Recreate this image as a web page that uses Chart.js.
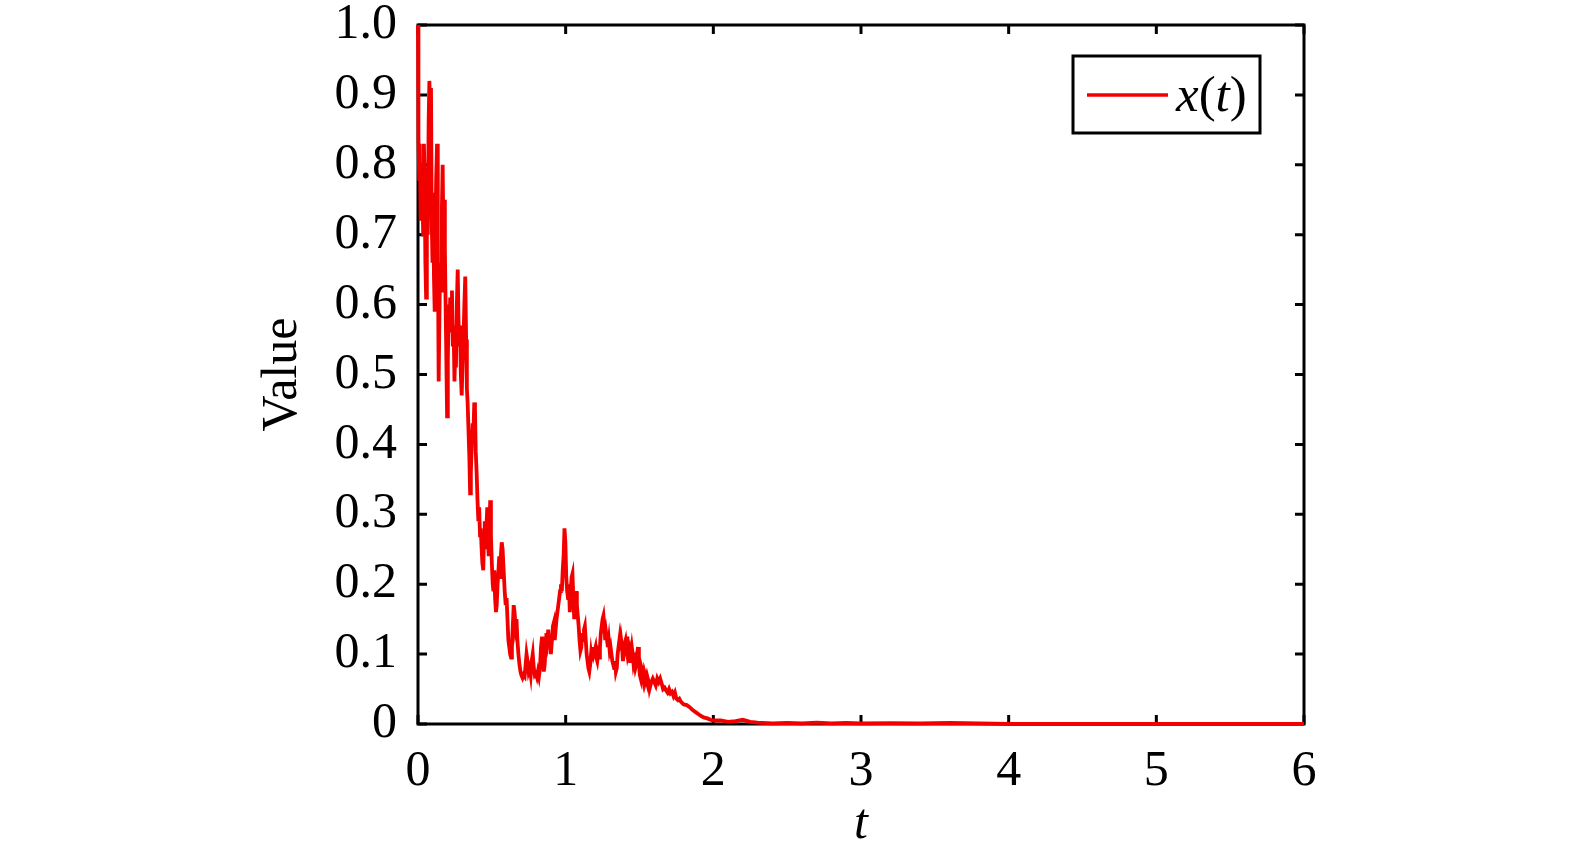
<!DOCTYPE html>
<html>
<head>
<meta charset="utf-8">
<script src="https://cdn.jsdelivr.net/npm/chart.js@4"></script>
<style>
  body { margin: 0; background: #fff; }
  #wrap { width: 1575px; height: 855px; }
</style>
</head>
<body>
<div id="wrap"><canvas id="myChart" width="1575" height="855"></canvas></div>
<script>
const tValues = [
  0.000, 0.003, 0.008, 0.012, 0.018, 0.024, 0.030, 0.035, 0.040, 0.045,
  0.050, 0.055, 0.060, 0.066, 0.072, 0.077, 0.082, 0.088, 0.093, 0.098,
  0.103, 0.108, 0.113, 0.118, 0.123, 0.129, 0.134, 0.140, 0.145, 0.150,
  0.156, 0.162, 0.167, 0.172, 0.177, 0.182, 0.187, 0.192, 0.197, 0.202,
  0.208, 0.213, 0.218, 0.224, 0.230, 0.236, 0.241, 0.247, 0.252, 0.257,
  0.263, 0.269, 0.274, 0.280, 0.285, 0.290, 0.296, 0.302, 0.308, 0.314,
  0.320, 0.326, 0.331, 0.336, 0.342, 0.348, 0.353, 0.358, 0.364, 0.370,
  0.376, 0.381, 0.386, 0.391, 0.397, 0.403, 0.409, 0.414, 0.420, 0.425,
  0.431, 0.436, 0.442, 0.447, 0.452, 0.458, 0.463, 0.469, 0.474, 0.479,
  0.484, 0.489, 0.494, 0.500, 0.506, 0.511, 0.517, 0.522, 0.528, 0.533,
  0.539, 0.545, 0.550, 0.556, 0.561, 0.567, 0.573, 0.580, 0.587, 0.594,
  0.600, 0.606, 0.612, 0.618, 0.624, 0.630, 0.636, 0.642, 0.648, 0.654,
  0.660, 0.667, 0.673, 0.680, 0.687, 0.694, 0.700, 0.708, 0.715, 0.722,
  0.729, 0.735, 0.742, 0.749, 0.756, 0.763, 0.770, 0.777, 0.784, 0.791,
  0.798, 0.805, 0.812, 0.819, 0.826, 0.833, 0.840, 0.846, 0.852, 0.858,
  0.864, 0.870, 0.876, 0.882, 0.888, 0.894, 0.900, 0.907, 0.914, 0.920,
  0.926, 0.932, 0.938, 0.944, 0.950, 0.956, 0.962, 0.968, 0.974, 0.980,
  0.986, 0.992, 0.998, 1.004, 1.010, 1.016, 1.022, 1.028, 1.034, 1.040,
  1.046, 1.052, 1.058, 1.064, 1.070, 1.076, 1.082, 1.088, 1.094, 1.100,
  1.106, 1.112, 1.118, 1.124, 1.130, 1.136, 1.142, 1.148, 1.154, 1.160,
  1.166, 1.172, 1.178, 1.184, 1.190, 1.196, 1.202, 1.208, 1.214, 1.220,
  1.226, 1.232, 1.238, 1.244, 1.250, 1.256, 1.262, 1.268, 1.274, 1.280,
  1.286, 1.292, 1.298, 1.304, 1.310, 1.316, 1.322, 1.328, 1.334, 1.340,
  1.346, 1.352, 1.358, 1.364, 1.370, 1.376, 1.382, 1.388, 1.394, 1.400,
  1.406, 1.412, 1.418, 1.424, 1.430, 1.436, 1.442, 1.448, 1.454, 1.460,
  1.466, 1.472, 1.478, 1.484, 1.490, 1.496, 1.502, 1.508, 1.514, 1.520,
  1.526, 1.532, 1.538, 1.544, 1.550, 1.556, 1.562, 1.568, 1.574, 1.580,
  1.590, 1.600, 1.610, 1.620, 1.630, 1.640, 1.650, 1.660, 1.670, 1.680,
  1.690, 1.700, 1.710, 1.720, 1.730, 1.740, 1.750, 1.760, 1.770, 1.780,
  1.790, 1.800, 1.820, 1.840, 1.860, 1.880, 1.900, 1.920, 1.940, 1.960,
  1.980, 2.000, 2.050, 2.100, 2.150, 2.200, 2.250, 2.300, 2.400, 2.500,
  2.600, 2.700, 2.800, 2.900, 3.000, 3.200, 3.400, 3.600, 3.800, 4.000,
  5.000, 6.000
];
const xValues = [
  1.00, 0.84, 0.78, 0.83, 0.72, 0.80, 0.76, 0.70, 0.83, 0.78,
  0.66, 0.61, 0.74, 0.70, 0.86, 0.92, 0.88, 0.91, 0.72, 0.66,
  0.76, 0.64, 0.59, 0.70, 0.78, 0.83, 0.70, 0.49, 0.58, 0.66,
  0.62, 0.74, 0.80, 0.70, 0.75, 0.68, 0.60, 0.52, 0.44, 0.52,
  0.60, 0.56, 0.61, 0.58, 0.62, 0.54, 0.57, 0.49, 0.53, 0.51,
  0.60, 0.65, 0.58, 0.54, 0.57, 0.50, 0.47, 0.52, 0.55, 0.60,
  0.64, 0.55, 0.48, 0.46, 0.42, 0.38, 0.33, 0.36, 0.40, 0.43,
  0.42, 0.46, 0.45, 0.39, 0.36, 0.32, 0.29, 0.31, 0.27, 0.28,
  0.25, 0.23, 0.22, 0.27, 0.29, 0.25, 0.28, 0.31, 0.26, 0.24,
  0.28, 0.32, 0.27, 0.23, 0.20, 0.19, 0.22, 0.18, 0.16, 0.17,
  0.20, 0.22, 0.24, 0.21, 0.24, 0.26, 0.25, 0.22, 0.19, 0.17,
  0.18, 0.15, 0.12, 0.11, 0.10, 0.095, 0.11, 0.14, 0.17, 0.16,
  0.14, 0.15, 0.12, 0.10, 0.085, 0.075, 0.07, 0.066, 0.07, 0.068,
  0.085, 0.10, 0.09, 0.075, 0.08, 0.07, 0.09, 0.10, 0.08, 0.07,
  0.072, 0.067, 0.075, 0.068, 0.08, 0.11, 0.125, 0.10, 0.075, 0.085,
  0.11, 0.13, 0.12, 0.135, 0.11, 0.12, 0.10, 0.12, 0.14, 0.145,
  0.12, 0.135, 0.15, 0.16, 0.17, 0.18, 0.19, 0.20, 0.19, 0.22,
  0.24, 0.28, 0.26, 0.21, 0.19, 0.18, 0.20, 0.16, 0.19, 0.21,
  0.215, 0.18, 0.15, 0.17, 0.19, 0.17, 0.155, 0.14, 0.12, 0.105,
  0.11, 0.13, 0.12, 0.135, 0.14, 0.12, 0.10, 0.09, 0.08, 0.075,
  0.085, 0.10, 0.09, 0.11, 0.10, 0.105, 0.11, 0.095, 0.09, 0.10,
  0.095, 0.11, 0.13, 0.14, 0.15, 0.155, 0.14, 0.12, 0.13, 0.12,
  0.11, 0.12, 0.105, 0.11, 0.10, 0.09, 0.085, 0.08, 0.09, 0.075,
  0.08, 0.10, 0.11, 0.12, 0.105, 0.12, 0.11, 0.09, 0.10, 0.115,
  0.12, 0.11, 0.125, 0.10, 0.105, 0.09, 0.10, 0.11, 0.10, 0.085,
  0.09, 0.08, 0.085, 0.10, 0.11, 0.09, 0.07, 0.065, 0.08, 0.075,
  0.065, 0.075, 0.07, 0.065, 0.07, 0.065, 0.06, 0.05, 0.055, 0.06,
  0.065, 0.06, 0.055, 0.065, 0.06, 0.065, 0.058, 0.05, 0.052, 0.048,
  0.045, 0.05, 0.044, 0.046, 0.04, 0.045, 0.036, 0.034, 0.036, 0.032,
  0.03, 0.028, 0.027, 0.024, 0.02, 0.017, 0.014, 0.011, 0.009, 0.008,
  0.006, 0.005, 0.005, 0.003, 0.004, 0.006, 0.003, 0.002, 0.001, 0.0015,
  0.001, 0.002, 0.001, 0.0015, 0.001, 0.0012, 0.001, 0.0015, 0.001, 0.0,
  0.0, 0.0
];
const xTickLabels = ['0', '1', '2', '3', '4', '5', '6'];
const yTickLabels = ['0', '0.1', '0.2', '0.3', '0.4', '0.5', '0.6', '0.7', '0.8', '0.9', '1.0'];

const RED = '#f20000';
const SERIF = '"Liberation Serif", "Times New Roman", serif';

// box round the plot plus inward ticks on all four sides
const framePlugin = {
  id: 'frame',
  beforeDatasetsDraw(chart) {
    const { ctx, chartArea: a, scales } = chart;
    const len = 9;
    ctx.save();
    ctx.strokeStyle = '#000';
    ctx.lineWidth = 3;
    ctx.beginPath();
    scales.x.ticks.forEach(t => {
      const px = scales.x.getPixelForValue(t.value);
      ctx.moveTo(px, a.bottom); ctx.lineTo(px, a.bottom - len);
      ctx.moveTo(px, a.top); ctx.lineTo(px, a.top + len);
    });
    scales.y.ticks.forEach(t => {
      const py = scales.y.getPixelForValue(t.value);
      ctx.moveTo(a.left, py); ctx.lineTo(a.left + len, py);
      ctx.moveTo(a.right, py); ctx.lineTo(a.right - len, py);
    });
    ctx.stroke();
    ctx.strokeRect(a.left, a.top, a.right - a.left, a.bottom - a.top);
    ctx.restore();
  }
};

// legend box, "x(t)" with italic letters
const legendPlugin = {
  id: 'boxLegend',
  afterDraw(chart) {
    const { ctx, chartArea: a } = chart;
    const x0 = a.right - 44, y0 = a.top + 31;
    const w = 187, h = 77;
    ctx.save();
    ctx.fillStyle = '#fff';
    ctx.fillRect(x0 - w, y0, w, h);
    ctx.strokeStyle = '#000';
    ctx.lineWidth = 3;
    ctx.strokeRect(x0 - w, y0, w, h);
    ctx.strokeStyle = RED;
    ctx.lineWidth = 3.5;
    ctx.beginPath();
    ctx.moveTo(x0 - w + 14, y0 + 39);
    ctx.lineTo(x0 - w + 95, y0 + 39);
    ctx.stroke();
    const parts = [['x', 'italic'], ['(', 'normal'], ['t', 'italic'], [')', 'normal']];
    let tx = x0 - w + 103;
    ctx.fillStyle = '#000';
    ctx.textBaseline = 'alphabetic';
    parts.forEach(([s, st]) => {
      ctx.font = st + ' 51px ' + SERIF;
      ctx.fillText(s, tx, y0 + 55);
      tx += ctx.measureText(s).width;
    });
    ctx.restore();
  }
};

const points = tValues.map((t, i) => ({ x: t, y: xValues[i] }));

new Chart(document.getElementById('myChart').getContext('2d'), {
  type: 'line',
  data: {
    datasets: [{
      label: 'x(t)',
      data: points,
      borderColor: RED,
      borderWidth: 3.8,
      pointRadius: 0,
      tension: 0,
      clip: 4
    }]
  },
  options: {
    responsive: false,
    animation: false,
    layout: { padding: { left: 253, right: 271, top: 25, bottom: 0 } },
    plugins: { legend: { display: false }, tooltip: { enabled: false } },
    scales: {
      x: {
        type: 'linear',
        min: 0, max: 6,
        grid: { display: false, drawTicks: false },
        border: { display: false },
        ticks: {
          stepSize: 1,
          padding: 18,
          maxRotation: 0,
          color: '#000',
          font: { family: SERIF, size: 50 },
          callback: (v, i) => xTickLabels[i]
        },
        title: {
          display: true, text: 't', color: '#000', padding: 0,
          font: { family: SERIF, size: 50, style: 'italic' }
        },
        afterFit(s) { s.height = 131; s.paddingLeft = 0; s.paddingRight = 0; }
      },
      y: {
        min: 0, max: 1,
        grid: { display: false, drawTicks: false },
        border: { display: false },
        ticks: {
          stepSize: 0.1,
          padding: 21,
          color: '#000',
          font: { family: SERIF, size: 50 },
          callback: (v, i) => yTickLabels[i]
        },
        title: {
          display: true, text: 'Value', color: '#000', padding: 0,
          font: { family: SERIF, size: 50 }
        },
        afterFit(s) { s.width = 165; s.paddingTop = 0; s.paddingBottom = 0; }
      }
    }
  },
  plugins: [framePlugin, legendPlugin]
});
</script>
</body>
</html>
